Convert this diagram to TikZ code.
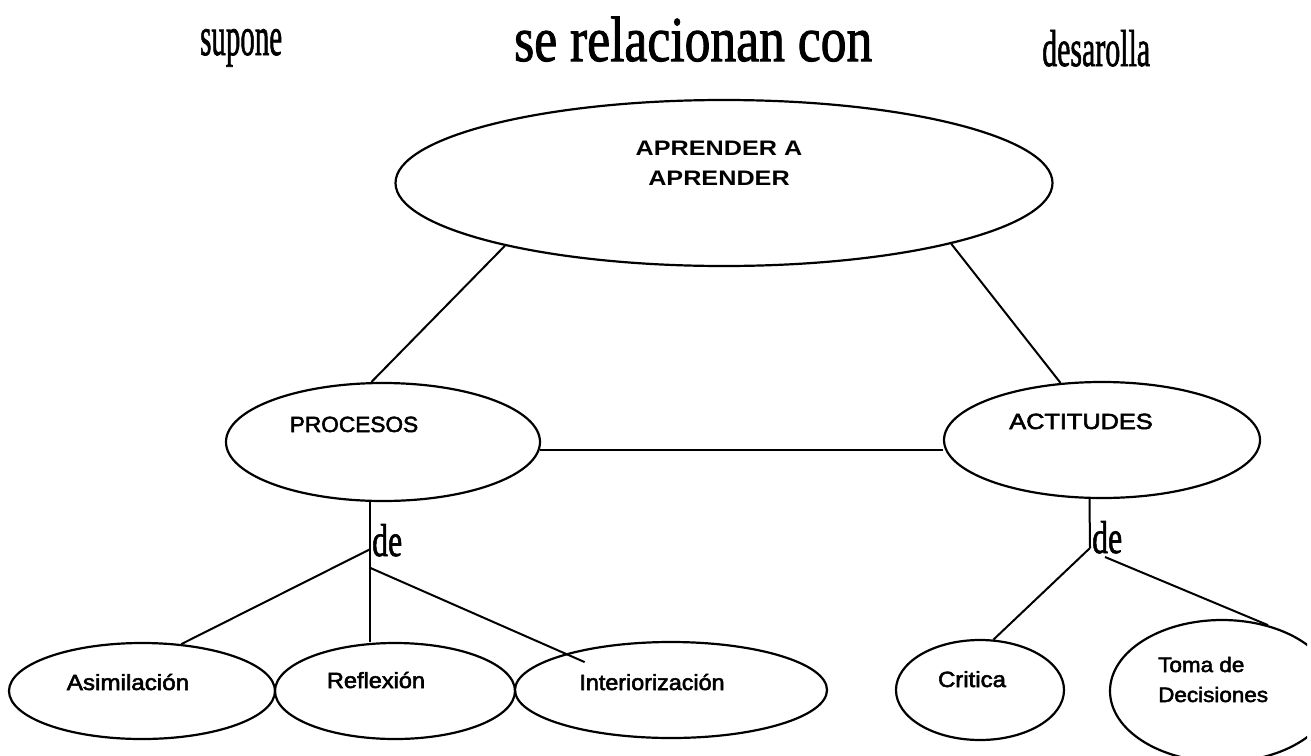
\documentclass[tikz,border=0pt]{standalone}
\usepackage{fontspec}
\usepackage{graphicx}
\setmainfont[FakeBold=1.6]{Liberation Serif}
\newfontfamily\lsans[FakeBold=2.4]{Liberation Sans}
\newfontfamily\lsansb{Liberation Sans}
\usetikzlibrary{shapes.geometric}
\tikzset{
  ell/.style={draw, ellipse, line width=2.2pt, inner sep=0pt},
  conn/.style={line width=2pt},
  lbl/.style={font=\lsans\fontsize{22}{26}\selectfont, anchor=base, inner sep=0pt},
  lblw/.style={font=\lsans\fontsize{21}{24}\selectfont, anchor=base west, inner sep=0pt},
  ttl/.style={font=\fontsize{#1}{#1}\selectfont, anchor=base west, inner sep=0pt},
  hd/.style={font=\lsansb\bfseries\fontsize{21}{24}\selectfont, anchor=base, inner sep=0pt},
}
\begin{document}
\begin{tikzpicture}[x=1pt,y=-1pt]
\useasboundingbox (0,0) rectangle (1311,755);

% title words
\node[ttl=55] (supone) at (200,55) {\scalebox{0.526}[1]{supone}};
\node[ttl=64] (rel) at (514,61) {\scalebox{0.806}[1]{se relacionan con}};
\node[ttl=52] (desa) at (1042,66) {\scalebox{0.575}[1]{desarolla}};

% ellipses
\node[ell, minimum width=657pt, minimum height=166pt] (top) at (724,183) {};
\node[ell, minimum width=314pt, minimum height=118pt] (proc) at (383,442) {};
\node[ell, minimum width=316pt, minimum height=116pt] (act) at (1102,440) {};
\node[ell, minimum width=266pt, minimum height=96pt] (asim) at (142,691) {};
\node[ell, minimum width=240pt, minimum height=96pt] (refl) at (395,691) {};
\node[ell, minimum width=312pt, minimum height=96pt] (inter) at (671,690) {};
\node[ell, minimum width=168pt, minimum height=100pt] (crit) at (980,690) {};
\begin{scope}
\clip (0,0) rectangle (1307,755);
\node[ell, minimum width=224pt, minimum height=142pt] (toma) at (1222,691) {};
\end{scope}

% texts
\node[hd] (t1) at (719,155) {\scalebox{1.2}[1]{APRENDER A}};
\node[hd] (t2) at (719,185) {\scalebox{1.2}[1]{APRENDER}};
\node[lbl] (tproc) at (354,432) {\scalebox{1.03}[1]{PROCESOS}};
\node[lbl] (tact) at (1081,429) {\scalebox{1.15}[1]{ACTITUDES}};
\node[lbl] (tasim) at (128,690) {\scalebox{1.1}[1]{Asimilación}};
\node[lbl] (trefl) at (376,688) {\scalebox{1.07}[1]{Reflexión}};
\node[lbl] (tinter) at (652,690) {\scalebox{1.06}[1]{Interiorización}};
\node[lbl] (tcrit) at (972,687) {\scalebox{1.09}[1]{Critica}};
\node[lblw] (ttoma1) at (1158,672) {\scalebox{1.07}[1]{Toma de}};
\node[lblw] (ttoma2) at (1158,702) {\scalebox{1.07}[1]{Decisiones}};

\node[ttl=46] (de1) at (372,556) {\scalebox{0.69}[1]{de}};
\node[ttl=46] (de2) at (1092,553) {\scalebox{0.69}[1]{de}};

% junctions
\coordinate (pj1) at (370.5,549);
\coordinate (pj2) at (370.5,568);
\coordinate (aj1) at (1090,548);
\coordinate (aj2) at (1105,557);

% connectors
\draw[conn] (top.196) -- (proc.101);
\draw[conn] (top.345) -- (act.126);
\draw[conn] (proc.-3) -- (proc.-3 -| act.west);
\draw[conn] (proc.258) -- (proc.258 |- refl.north);
\draw[conn] (pj1) -- (asim.50);
\draw[conn, shorten >=-21pt] (pj2) -- (inter.161);
\draw[conn] (act.258) -- (aj1);
\draw[conn] (aj1) -- (crit.75);
\draw[conn] (aj2) -- (toma.55);
\end{tikzpicture}
\end{document}
